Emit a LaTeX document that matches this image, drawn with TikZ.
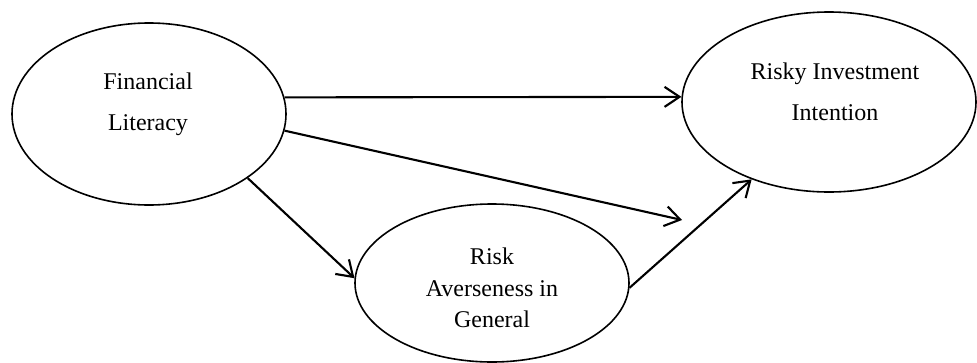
\documentclass[tikz,border=0pt]{standalone}
\usepackage{fontspec}
\setmainfont{Liberation Serif}
\usetikzlibrary{shapes.geometric,arrows.meta}
\tikzstyle{construct} = [ellipse, draw, line width=1.6pt, inner sep=0pt]
\tikzset{caption/.style={align=center, font=\fontsize{24}{41}\selectfont},
    link/.style={line width=2.1pt, -{Straight Barb[length=15pt, width=20pt]}}}

\begin{document}
\begin{tikzpicture}[x=1pt, y=-1pt]
    % Frame of the picture
    \useasboundingbox (0,0) rectangle (977,362);
    %
    % Definition of the constructs
    \node[construct, minimum width=274pt, minimum height=182pt] (literacy) at (149,114) {};
    \node[construct, minimum width=294pt, minimum height=180pt] (intention) at (829,102) {};
    \node[construct, minimum width=274pt, minimum height=158pt] (averse) at (492,283) {};
    \node[caption] (literacyText) at (148,104) {Financial\\Literacy};
    \node[caption] (intentionText) at (835,92) {Risky Investment\\Intention};
    \node[caption, font=\fontsize{24}{31.5}\selectfont] (averseText) at (492,288) {Risk\\Averseness in\\General};
    %
    \coordinate (openEnd) at (682,220);
    \draw[link] (literacy.7) -- (intention.178);
    \draw[link] (literacy.-7) -- (openEnd);
    \draw[link] (literacy.-33) -- (averse.178);
    \draw[link] (averse.-2) -- (intention.225);
\end{tikzpicture}
\end{document}
